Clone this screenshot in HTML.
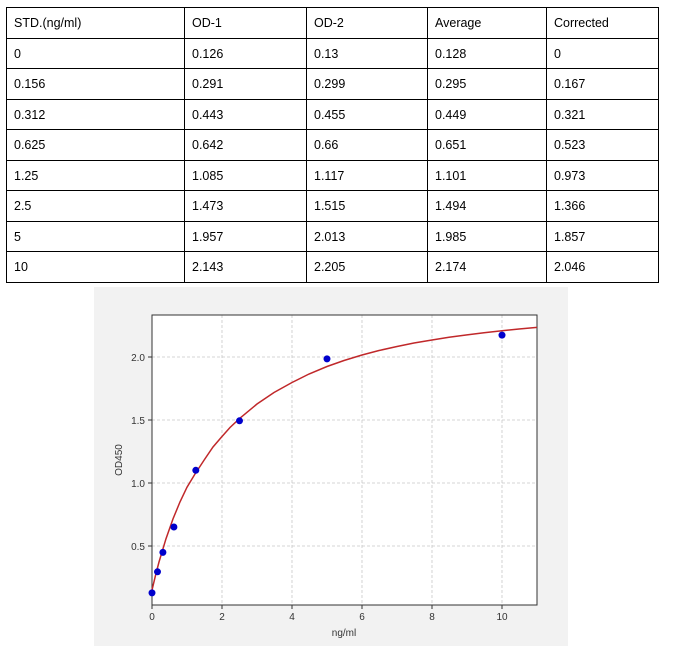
<!DOCTYPE html>
<html><head><style>
body{margin:0;background:#fff;width:680px;height:647px;position:relative;font-family:"Liberation Sans",sans-serif;}
table{position:absolute;left:6px;top:7px;border-collapse:collapse;font-size:12.5px;color:#000;}
td{border:1px solid #000;height:30.5px;padding:1px 0 0 7px;box-sizing:border-box;}
</style></head><body>
<table>
<tr><td style="width:178px">STD.(ng/ml)</td><td style="width:122px">OD-1</td><td style="width:121px">OD-2</td><td style="width:119px">Average</td><td style="width:112px">Corrected</td></tr>
<tr><td>0</td><td>0.126</td><td>0.13</td><td>0.128</td><td>0</td></tr>
<tr><td>0.156</td><td>0.291</td><td>0.299</td><td>0.295</td><td>0.167</td></tr>
<tr><td>0.312</td><td>0.443</td><td>0.455</td><td>0.449</td><td>0.321</td></tr>
<tr><td>0.625</td><td>0.642</td><td>0.66</td><td>0.651</td><td>0.523</td></tr>
<tr><td>1.25</td><td>1.085</td><td>1.117</td><td>1.101</td><td>0.973</td></tr>
<tr><td>2.5</td><td>1.473</td><td>1.515</td><td>1.494</td><td>1.366</td></tr>
<tr><td>5</td><td>1.957</td><td>2.013</td><td>1.985</td><td>1.857</td></tr>
<tr><td>10</td><td>2.143</td><td>2.205</td><td>2.174</td><td>2.046</td></tr>
</table>
<svg width="680" height="647" style="position:absolute;left:0;top:0" font-family="Liberation Sans, sans-serif">
<rect x="94" y="287" width="474" height="359" fill="#f2f2f2"/>
<rect x="152" y="315" width="385" height="290" fill="#fff"/>
<g stroke="#c8c8c8" stroke-dasharray="3,2" stroke-width="0.8">
<line x1="222" y1="315" x2="222" y2="605"/><line x1="292" y1="315" x2="292" y2="605"/><line x1="362" y1="315" x2="362" y2="605"/><line x1="432" y1="315" x2="432" y2="605"/><line x1="502" y1="315" x2="502" y2="605"/>
<line x1="152" y1="546" x2="537" y2="546"/><line x1="152" y1="483" x2="537" y2="483"/><line x1="152" y1="420" x2="537" y2="420"/><line x1="152" y1="357" x2="537" y2="357"/>
</g>
<rect x="152" y="315" width="385" height="290" fill="none" stroke="#333" stroke-width="1"/>
<g stroke="#333"><line x1="152" y1="605" x2="152" y2="609"/><line x1="222" y1="605" x2="222" y2="609"/><line x1="292" y1="605" x2="292" y2="609"/><line x1="362" y1="605" x2="362" y2="609"/><line x1="432" y1="605" x2="432" y2="609"/><line x1="502" y1="605" x2="502" y2="609"/>
<line x1="148" y1="546" x2="152" y2="546"/><line x1="148" y1="483" x2="152" y2="483"/><line x1="148" y1="420" x2="152" y2="420"/><line x1="148" y1="357" x2="152" y2="357"/></g>
<g font-size="10" fill="#333" text-anchor="middle">
<text x="152" y="620">0</text><text x="222" y="620">2</text><text x="292" y="620">4</text><text x="362" y="620">6</text><text x="432" y="620">8</text><text x="502" y="620">10</text>
<text x="344" y="636">ng/ml</text>
</g>
<g font-size="10" fill="#333" text-anchor="end">
<text x="145" y="550">0.5</text><text x="145" y="487">1.0</text><text x="145" y="424">1.5</text><text x="145" y="361">2.0</text>
</g>
<text transform="translate(122,460) rotate(-90)" font-size="10" fill="#333" text-anchor="middle">OD450</text>
<path fill="none" stroke="#c0282a" stroke-width="1.5" d="M152,590.1 L155.5,575.4 L159,562 L166,538.7 L173,518.9 L180,501.9 L187,487.2 L195,474 L204.5,459.5 L213,447 L222,436.5 L230,427.5 L239.5,418.6 L257,404 L274,392.5 L292,382.5 L309,374 L327,366.5 L344,360.5 L362,355 L379,350.5 L397,346.5 L414,343 L432,340 L449,337.3 L467,334.9 L484,332.7 L502,330.7 L519,329 L537,327.4"/>
<g fill="#0000cc">
<circle cx="152" cy="592.9" r="3.5"/><circle cx="157.5" cy="571.8" r="3.5"/><circle cx="162.9" cy="552.4" r="3.5"/><circle cx="173.9" cy="527" r="3.5"/><circle cx="195.8" cy="470.3" r="3.5"/><circle cx="239.5" cy="420.8" r="3.5"/><circle cx="327" cy="358.9" r="3.5"/><circle cx="502" cy="335.1" r="3.5"/>
</g>
</svg>
</body></html>
